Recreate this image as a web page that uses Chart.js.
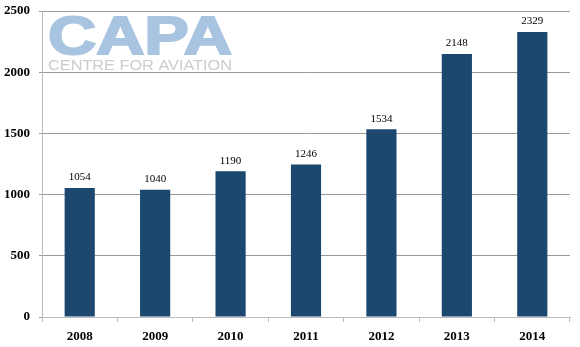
<!DOCTYPE html>
<html>
<head>
<meta charset="utf-8">
<script src="https://cdn.jsdelivr.net/npm/chart.js@4/dist/chart.umd.min.js"></script>
<style>
    html, body { margin: 0; padding: 0; background: #fff; }
    #wrap { width: 580px; height: 347px; }
</style>
</head>
<body>
<div id="wrap"><canvas id="capa-chart" width="580" height="347"></canvas></div>
<script>
const years = ['2008', '2009', '2010', '2011', '2012', '2013', '2014'];
const flights = [1054, 1040, 1190, 1246, 1534, 2148, 2329];
const yTicks = [0, 500, 1000, 1500, 2000, 2500];

const serif = '"Liberation Serif", "Times New Roman", serif';

// CAPA watermark in the top left corner
const logoPlugin = {
    id: 'logo',
    beforeDatasetsDraw(chart) {
        const ctx = chart.ctx;
        ctx.save();
        ctx.textBaseline = 'alphabetic';
        ctx.textAlign = 'left';

        ctx.font = 'bold 54px "Liberation Sans", Arial, sans-serif';
        let w = ctx.measureText('CAPA').width;
        ctx.save();
        ctx.translate(48, 54);
        ctx.scale(184 / w, 1);
        ctx.fillStyle = '#a8c4e0';
        ctx.strokeStyle = '#a8c4e0';
        ctx.lineWidth = 2;
        ctx.fillText('CAPA', 0, 0);
        ctx.strokeText('CAPA', 0, 0);
        ctx.restore();

        ctx.font = '14px "Liberation Sans", Arial, sans-serif';
        w = ctx.measureText('CENTRE FOR AVIATION').width;
        ctx.save();
        ctx.translate(48, 70);
        ctx.scale(184 / w, 1);
        ctx.fillStyle = '#cccccc';
        ctx.fillText('CENTRE FOR AVIATION', 0, 0);
        ctx.restore();

        ctx.restore();
    }
};

// value above each bar
const valuePlugin = {
    id: 'values',
    afterDatasetsDraw(chart) {
        const ctx = chart.ctx;
        const meta = chart.getDatasetMeta(0);
        ctx.save();
        ctx.font = '11px ' + serif;
        ctx.fillStyle = '#000';
        ctx.textAlign = 'center';
        ctx.textBaseline = 'bottom';
        meta.data.forEach((bar, i) => {
            ctx.fillText(flights[i], bar.x, bar.y - 5);
        });
        ctx.restore();
    }
};

const data = {
    labels: years,
    datasets: [{
        data: flights,
        backgroundColor: '#1c476f',
        borderWidth: 0,
        categoryPercentage: 0.8,
        barPercentage: 0.5
    }]
};

const config = {
    type: 'bar',
    data: data,
    plugins: [logoPlugin, valuePlugin],
    options: {
        responsive: false,
        animation: false,
        layout: {
            padding: { top: 11, right: 10, bottom: 0, left: 0 }
        },
        plugins: {
            legend: { display: false },
            tooltip: { enabled: false }
        },
        scales: {
            x: {
                afterFit: s => {
                    s.height = 30;
                    s.paddingLeft = 0;
                    s.paddingRight = 0;
                },
                grid: {
                    display: true,
                    drawOnChartArea: false,
                    offset: true,
                    tickLength: 5,
                    color: '#bbbbbb'
                },
                border: { color: '#bbbbbb' },
                ticks: {
                    padding: 7,
                    color: '#000',
                    font: { family: serif, size: 13, weight: 'bold' }
                }
            },
            y: {
                min: 0,
                max: 2500,
                afterFit: s => {
                    s.width = 42;
                    s.paddingTop = 0;
                    s.paddingBottom = 0;
                },
                afterBuildTicks: s => { s.ticks = yTicks.map(v => ({ value: v })); },
                grid: {
                    color: '#9a9a9a',
                    tickLength: 3
                },
                border: { color: '#bbbbbb' },
                ticks: {
                    padding: 9,
                    color: '#000',
                    font: { family: serif, size: 13, weight: 'bold' },
                    callback: v => String(v)
                }
            }
        }
    }
};

const ctx = document.getElementById('capa-chart');
let chart = new Chart(ctx, config);
</script>
</body>
</html>
